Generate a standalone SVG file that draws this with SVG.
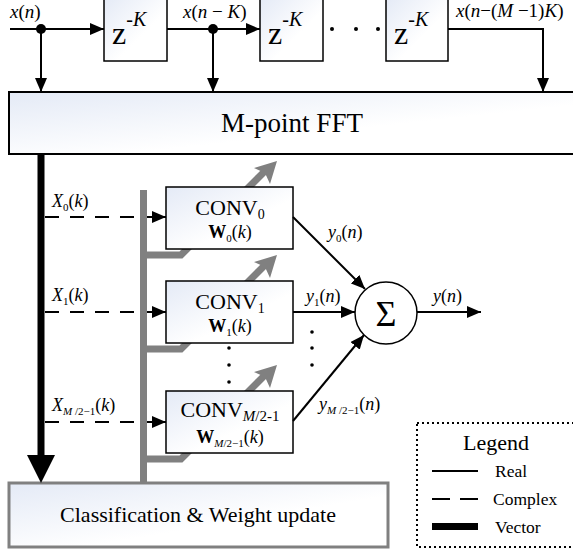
<svg xmlns="http://www.w3.org/2000/svg" width="573" height="554" viewBox="0 0 573 554">
<style>
text{fill:#000;font-family:"Liberation Serif","Times New Roman",serif}
.i{font-style:italic}
.b{font-weight:bold}
.box{stroke:#000;stroke-width:2;fill:url(#g)}
.zb{stroke:#000;stroke-width:1.5;fill:url(#g)}
.ln{stroke:#000;stroke-width:2;fill:none}
.ds{stroke:#000;stroke-width:2;fill:none;stroke-dasharray:14 11}
.gr{stroke:#808080;stroke-width:7;fill:none}
.grf{fill:#808080}
</style>
<defs>
<linearGradient id="g" x1="0" y1="0" x2="1" y2="1">
<stop offset="0" stop-color="#e4eaf6"/>
<stop offset="0.6" stop-color="#ffffff"/>
</linearGradient>
<marker id="a" markerUnits="userSpaceOnUse" markerWidth="14" markerHeight="12" refX="14" refY="6" orient="auto">
<path d="M0,0 L14,6 L0,12 z" fill="#000"/>
</marker>
<g id="garrow">
<polyline class="gr" points="143,255 181,255 265,171"/>
<polygon class="grf" points="277,161 270,184 265,173 254,168"/>
</g>
</defs>

<g id="connectors-gray">
<use href="#garrow"/>
<use href="#garrow" transform="translate(0,94)"/>
<use href="#garrow" transform="translate(0,204)"/>
</g>

<g id="z1"><rect class="zb" x="104" y="-2" width="63" height="63"/>
<text x="112" y="44" font-size="32">z<tspan font-size="20" dy="-18">-</tspan><tspan class="i" font-size="20">K</tspan></text></g>
<g id="z2"><rect class="zb" x="260" y="-2" width="63" height="63"/>
<text x="268" y="44" font-size="32">z<tspan font-size="20" dy="-18">-</tspan><tspan class="i" font-size="20">K</tspan></text></g>
<g id="z3"><rect class="zb" x="386" y="-2" width="62" height="63"/>
<text x="394" y="44" font-size="32">z<tspan font-size="20" dy="-18">-</tspan><tspan class="i" font-size="20">K</tspan></text></g>

<g id="fft"><rect class="box" x="9" y="92" width="572" height="62"/>
<text x="292" y="132" font-size="27" text-anchor="middle">M-point FFT</text></g>

<g id="conv0"><rect class="zb" x="166" y="187" width="127" height="62"/>
<text x="230" y="215" font-size="22" text-anchor="middle">CONV<tspan font-size="14" dy="4">0</tspan></text>
<text x="230" y="238" font-size="18" text-anchor="middle"><tspan class="b">W</tspan><tspan font-size="11" dy="4">0</tspan><tspan dy="-4">(</tspan><tspan class="i">k</tspan>)</text></g>

<g id="conv1"><rect class="zb" x="166" y="281" width="127" height="62"/>
<text x="230" y="309" font-size="22" text-anchor="middle">CONV<tspan font-size="14" dy="4">1</tspan></text>
<text x="230" y="332" font-size="18" text-anchor="middle"><tspan class="b">W</tspan><tspan font-size="11" dy="4">1</tspan><tspan dy="-4">(</tspan><tspan class="i">k</tspan>)</text></g>

<g id="conv2"><rect class="zb" x="166" y="391" width="127" height="62"/>
<text x="230" y="417" font-size="22" text-anchor="middle">CONV<tspan class="i" font-size="15" dy="4">M</tspan><tspan font-size="15">/2-1</tspan></text>
<text x="230" y="443" font-size="18" text-anchor="middle"><tspan class="b">W</tspan><tspan class="i" font-size="11" dy="4">M</tspan><tspan font-size="11">/2−1</tspan><tspan dy="-4">(</tspan><tspan class="i">k</tspan>)</text></g>

<g id="sum"><circle cx="386" cy="313" r="31" fill="#fff" stroke="#000" stroke-width="1.5"/>
<text x="386" y="326" font-size="36" text-anchor="middle">Σ</text></g>

<g id="classify"><rect x="9" y="483" width="379" height="64" fill="url(#g)" stroke="#808080" stroke-width="3"/>
<text x="198" y="522" font-size="22" text-anchor="middle">Classification &amp; Weight update</text></g>

<g id="connectors">
<line class="ln" x1="10" y1="29" x2="104" y2="29" marker-end="url(#a)"/>
<line class="ln" x1="167" y1="29" x2="260" y2="29" marker-end="url(#a)"/>
<polyline class="ln" points="448,29 543,29 543,92" marker-end="url(#a)"/>
<line class="ln" x1="41" y1="29" x2="41" y2="92" marker-end="url(#a)"/>
<line class="ln" x1="213" y1="29" x2="213" y2="92" marker-end="url(#a)"/>
<circle cx="41" cy="29" r="5"/>
<circle cx="213" cy="29" r="5"/>
<circle cx="332" cy="29" r="2"/><circle cx="356" cy="29" r="2"/><circle cx="378" cy="29" r="2"/>

<line x1="41" y1="154" x2="41" y2="457" stroke="#000" stroke-width="7"/>
<polygon points="27,455 55,455 41,483"/>

<line class="ds" x1="45" y1="217" x2="142" y2="217"/>
<line class="ds" x1="45" y1="312" x2="142" y2="312"/>
<line class="ds" x1="45" y1="422" x2="142" y2="422"/>
<line class="ln" x1="140" y1="217" x2="166" y2="217" marker-end="url(#a)"/>
<line class="ln" x1="140" y1="312" x2="166" y2="312" marker-end="url(#a)"/>
<line class="ln" x1="140" y1="422" x2="166" y2="422" marker-end="url(#a)"/>
<line class="gr" x1="143.5" y1="190" x2="143.5" y2="483"/>

<line class="ln" x1="293" y1="217" x2="365" y2="289" marker-end="url(#a)"/>
<line class="ln" x1="293" y1="312" x2="355" y2="312" marker-end="url(#a)"/>
<line class="ln" x1="293" y1="421" x2="364" y2="335" marker-end="url(#a)"/>
<line class="ln" x1="417" y1="312" x2="481" y2="312" marker-end="url(#a)"/>

<circle cx="229" cy="348" r="1.8"/><circle cx="229" cy="365" r="1.8"/><circle cx="229" cy="382" r="1.8"/>
<circle cx="312" cy="332" r="1.8"/><circle cx="312" cy="348" r="1.8"/><circle cx="312" cy="365" r="1.8"/>
</g>

<g id="labels">
<text x="10" y="18" font-size="19"><tspan class="i">x</tspan>(<tspan class="i">n</tspan>)</text>
<text x="183" y="18" font-size="19"><tspan class="i">x</tspan>(<tspan class="i">n</tspan> − <tspan class="i">K</tspan>)</text>
<text x="456" y="17" font-size="19"><tspan class="i">x</tspan>(<tspan class="i">n</tspan>−(<tspan class="i">M</tspan> −1)<tspan class="i">K</tspan>)</text>
<text x="52" y="207" font-size="18"><tspan class="i">X</tspan><tspan font-size="11" dy="4">0</tspan><tspan dy="-4">(</tspan><tspan class="i">k</tspan>)</text>
<text x="52" y="301" font-size="18"><tspan class="i">X</tspan><tspan font-size="11" dy="4">1</tspan><tspan dy="-4">(</tspan><tspan class="i">k</tspan>)</text>
<text x="52" y="411" font-size="18"><tspan class="i">X</tspan><tspan class="i" font-size="11" dy="4">M</tspan><tspan font-size="11"> /2−1</tspan><tspan dy="-4">(</tspan><tspan class="i">k</tspan>)</text>
<text x="328" y="238" font-size="18"><tspan class="i">y</tspan><tspan font-size="11" dy="4">0</tspan><tspan dy="-4">(</tspan><tspan class="i">n</tspan>)</text>
<text x="306" y="302" font-size="18"><tspan class="i">y</tspan><tspan font-size="11" dy="4">1</tspan><tspan dy="-4">(</tspan><tspan class="i">n</tspan>)</text>
<text x="433" y="302" font-size="18"><tspan class="i">y</tspan>(<tspan class="i">n</tspan>)</text>
<text x="319" y="410" font-size="18"><tspan class="i">y</tspan><tspan class="i" font-size="11" dy="4">M</tspan><tspan font-size="11"> /2−1</tspan><tspan dy="-4">(</tspan><tspan class="i">n</tspan>)</text>
</g>

<g id="legend">
<rect x="417" y="423" width="170" height="124" fill="none" stroke="#000" stroke-width="2" stroke-dasharray="2 3"/>
<text x="496" y="450" font-size="22" text-anchor="middle">Legend</text>
<line x1="432" y1="471" x2="478" y2="471" stroke="#000" stroke-width="2"/>
<text x="495" y="477" font-size="17.5">Real</text>
<line x1="432" y1="499" x2="478" y2="499" stroke="#000" stroke-width="2" stroke-dasharray="18 10"/>
<text x="493" y="505" font-size="17.5">Complex</text>
<rect x="432" y="523" width="46" height="7"/>
<text x="495" y="533" font-size="17.5">Vector</text>
</g>
</svg>
